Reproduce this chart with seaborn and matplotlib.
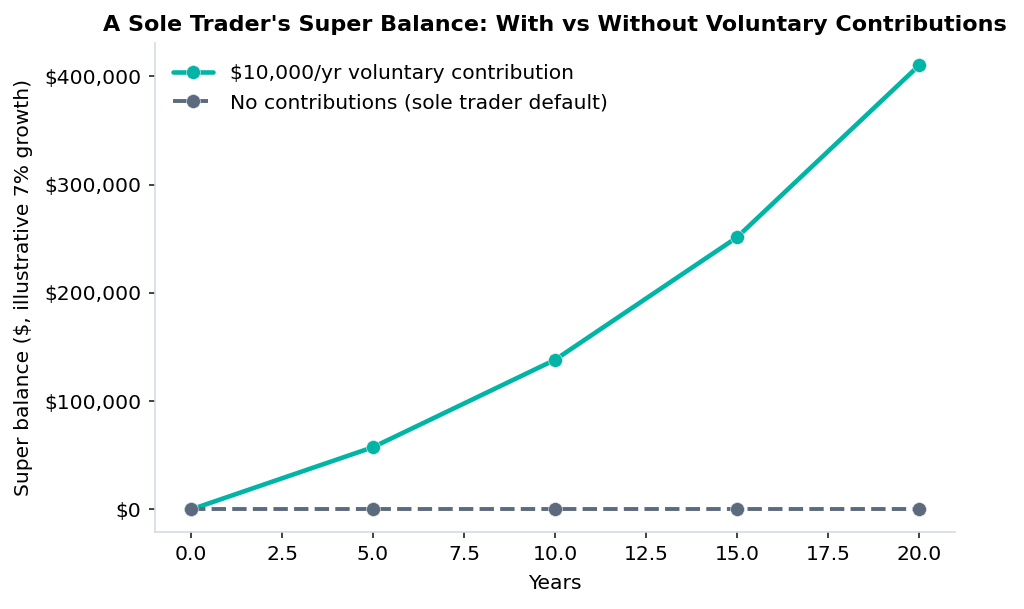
"""Sole trader super balance: with vs without voluntary contributions."""

import matplotlib
matplotlib.use("Agg")
import matplotlib.pyplot as plt
import matplotlib.ticker as mticker
import pandas as pd
import seaborn as sns

years = [0, 5, 10, 15, 20]
with_contrib = [0, 57500, 138200, 251300, 410000]
no_contrib = [0, 0, 0, 0, 0]

label_with = "$10,000/yr voluntary contribution"
label_without = "No contributions (sole trader default)"

FS = 14.6

sns.set_style("white")
plt.rcParams.update({"font.size": FS, "font.family": ["DejaVu Sans"],
                     "text.color": "black", "axes.labelcolor": "black",
                     "xtick.color": "black", "ytick.color": "black"})

fig, ax = plt.subplots(figsize=(10.24, 6.09), dpi=100)
fig.subplots_adjust(left=0.151, right=0.933, top=0.929, bottom=0.127)

df_with = pd.DataFrame({"Years": years, "Balance": with_contrib})
df_without = pd.DataFrame({"Years": years, "Balance": no_contrib})

sns.lineplot(data=df_with, x="Years", y="Balance", ax=ax, color="#00b5a5",
             linewidth=3.3, marker="o", markersize=10, markeredgecolor="#e8f0f0",
             markeredgewidth=0.4, label=label_with)
sns.lineplot(data=df_without, x="Years", y="Balance", ax=ax, color="#5b6b7d",
             linewidth=2.8, linestyle="--", marker="o", markersize=10,
             markeredgecolor="#e8ecf0", markeredgewidth=0.4, label=label_without)

ax.yaxis.set_major_formatter(mticker.FuncFormatter(lambda v, _: f"${v:,.0f}"))
ax.set_yticks([0, 100000, 200000, 300000, 400000])
ax.set_xticks([0, 2.5, 5, 7.5, 10, 12.5, 15, 17.5, 20])
ax.tick_params(axis="both", which="major", length=4.5, width=1.2, color="#222222",
               labelsize=FS, bottom=True, left=True, pad=5)

for side in ["top", "right"]:
    ax.spines[side].set_visible(False)
for side in ["left", "bottom"]:
    ax.spines[side].set_color("#d5dbe3")
    ax.spines[side].set_linewidth(1.2)

ax.set_xlabel("Years", fontsize=FS, labelpad=7)
ax.set_ylabel("Super balance ($, illustrative 7% growth)", fontsize=FS, labelpad=8)
ax.set_title("A Sole Trader's Super Balance: With vs Without Voluntary Contributions",
             fontsize=16, fontweight="bold", pad=9)

ax.legend(loc="upper left", frameon=False, fontsize=FS, bbox_to_anchor=(0, 0.994))

fig.savefig("out.png", dpi=100)
plt.close(fig)
